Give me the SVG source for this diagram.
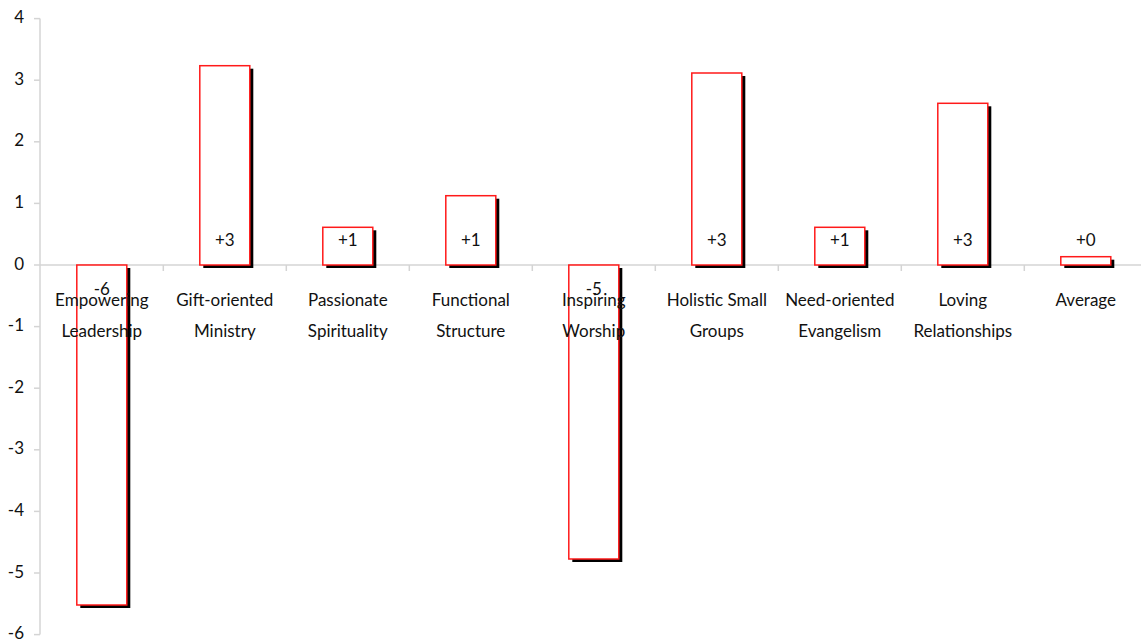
<svg xmlns="http://www.w3.org/2000/svg" width="1141" height="643" viewBox="0 0 1141 643">
<style>
.ax{stroke:#d4d4d4;stroke-width:1.5;fill:none}
.bar{fill:#fff;stroke:#ff1a1a;stroke-width:1.5}
.sh{fill:#000}
text{font-family:Lato,"Liberation Sans",sans-serif;fill:#111;font-size:17px}
.yl{text-anchor:end}
.c{text-anchor:middle}
</style>
<rect width="1141" height="643" fill="#fff"/>
<g id="axes">
<line class="ax" x1="40" y1="18.6" x2="40" y2="634.6"/>
<line class="ax" x1="40" y1="265" x2="1141" y2="265"/>
<g class="ax">
<line x1="34" y1="18.6" x2="40" y2="18.6"/>
<line x1="34" y1="80.2" x2="40" y2="80.2"/>
<line x1="34" y1="141.8" x2="40" y2="141.8"/>
<line x1="34" y1="203.4" x2="40" y2="203.4"/>
<line x1="34" y1="265" x2="40" y2="265"/>
<line x1="34" y1="326.6" x2="40" y2="326.6"/>
<line x1="34" y1="388.2" x2="40" y2="388.2"/>
<line x1="34" y1="449.8" x2="40" y2="449.8"/>
<line x1="34" y1="511.4" x2="40" y2="511.4"/>
<line x1="34" y1="573" x2="40" y2="573"/>
<line x1="34" y1="634.6" x2="40" y2="634.6"/>
<line x1="163.3" y1="265" x2="163.3" y2="271"/>
<line x1="286.3" y1="265" x2="286.3" y2="271"/>
<line x1="409.3" y1="265" x2="409.3" y2="271"/>
<line x1="532.3" y1="265" x2="532.3" y2="271"/>
<line x1="655.3" y1="265" x2="655.3" y2="271"/>
<line x1="778.3" y1="265" x2="778.3" y2="271"/>
<line x1="901.3" y1="265" x2="901.3" y2="271"/>
<line x1="1024.3" y1="265" x2="1024.3" y2="271"/>
</g>
<g class="yl">
<text x="24" y="23">4</text>
<text x="24" y="84.7">3</text>
<text x="24" y="146.3">2</text>
<text x="24" y="207.9">1</text>
<text x="24" y="269.5">0</text>
<text x="24" y="331.1">-1</text>
<text x="24" y="392.7">-2</text>
<text x="24" y="454.3">-3</text>
<text x="24" y="515.9">-4</text>
<text x="24" y="577.5">-5</text>
<text x="24" y="639">-6</text>
</g>
</g>
<g id="bar-empowering">
<rect class="sh" x="80.3" y="268" width="50" height="340"/>
<rect class="bar" x="76.8" y="265" width="50" height="340"/>
</g>
<g id="bar-gift">
<rect class="sh" x="203.3" y="68.7" width="50" height="199.3"/>
<rect class="bar" x="199.8" y="65.7" width="50" height="199.3"/>
</g>
<g id="bar-passionate">
<rect class="sh" x="326.3" y="230.3" width="50" height="37.7"/>
<rect class="bar" x="322.8" y="227.3" width="50" height="37.7"/>
</g>
<g id="bar-functional">
<rect class="sh" x="449.3" y="198.7" width="50" height="69.3"/>
<rect class="bar" x="445.8" y="195.7" width="50" height="69.3"/>
</g>
<g id="bar-inspiring">
<rect class="sh" x="572.3" y="268" width="50" height="294"/>
<rect class="bar" x="568.8" y="265" width="50" height="294"/>
</g>
<g id="bar-holistic">
<rect class="sh" x="695.3" y="76" width="50" height="192"/>
<rect class="bar" x="691.8" y="73" width="50" height="192"/>
</g>
<g id="bar-need">
<rect class="sh" x="818.3" y="230.3" width="50" height="37.7"/>
<rect class="bar" x="814.8" y="227.3" width="50" height="37.7"/>
</g>
<g id="bar-loving">
<rect class="sh" x="941.3" y="106.3" width="50" height="161.7"/>
<rect class="bar" x="937.8" y="103.3" width="50" height="161.7"/>
</g>
<g id="bar-average">
<rect class="sh" x="1064.3" y="259.7" width="50" height="8.3"/>
<rect class="bar" x="1060.8" y="256.7" width="50" height="8.3"/>
</g>
<g id="values" class="c">
<text x="101.8" y="295">-6</text>
<text x="224.8" y="246">+3</text>
<text x="347.8" y="246">+1</text>
<text x="470.8" y="246">+1</text>
<text x="593.8" y="295">-5</text>
<text x="716.8" y="246">+3</text>
<text x="839.8" y="246">+1</text>
<text x="962.8" y="246">+3</text>
<text x="1085.8" y="246">+0</text>
</g>
<g id="labels" class="c">
<text x="101.8" y="306">Empowering</text>
<text x="101.8" y="336.5">Leadership</text>
<text x="224.8" y="306">Gift-oriented</text>
<text x="224.8" y="336.5">Ministry</text>
<text x="347.8" y="306">Passionate</text>
<text x="347.8" y="336.5">Spirituality</text>
<text x="470.8" y="306">Functional</text>
<text x="470.8" y="336.5">Structure</text>
<text x="593.8" y="306">Inspiring</text>
<text x="593.8" y="336.5">Worship</text>
<text x="716.8" y="306">Holistic Small</text>
<text x="716.8" y="336.5">Groups</text>
<text x="839.8" y="306">Need-oriented</text>
<text x="839.8" y="336.5">Evangelism</text>
<text x="962.8" y="306">Loving</text>
<text x="962.8" y="336.5">Relationships</text>
<text x="1085.8" y="306">Average</text>
</g>
</svg>
